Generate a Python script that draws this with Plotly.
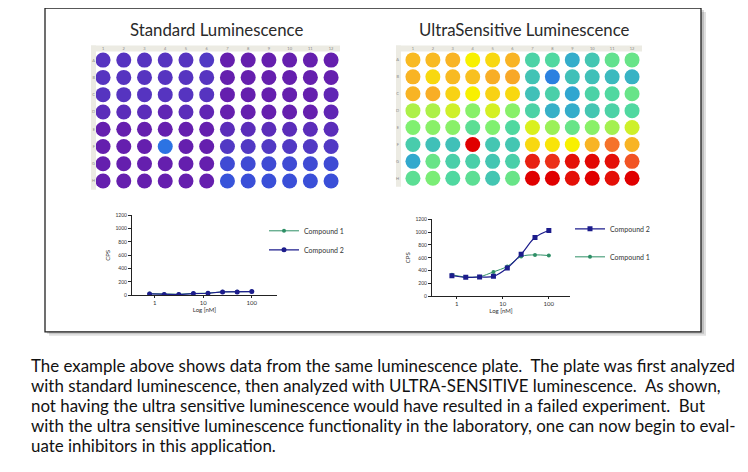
import plotly.graph_objects as go

# page body has an 8px margin, so the figure is drawn 8px in from the window edge
OFF = 8
W, H = 748 - OFF, 472 - OFF

plate_titles = ["Standard Luminescence", "UltraSensitive Luminescence"]
plate_columns = list(range(1, 13))
plate_rows = ["A", "B", "C", "D", "E", "F", "G", "H"]

# relative signal per well (0-100)
standard_wells = [
    [4, 4, 4, 4, 4, 5, 1, 1, 1, 1, 1, 1],
    [4, 4, 4, 4, 4, 4, 1, 1, 1, 1, 1, 1],
    [4, 4, 4, 4, 4, 4, 1, 1, 1, 1, 1, 2],
    [3, 3, 3, 2, 3, 2, 1, 1, 1, 1, 1, 2],
    [1, 1, 1, 1, 1, 1, 3, 3, 3, 3, 3, 3],
    [1, 1, 1, 17, 1, 1, 5, 5, 5, 5, 5, 5],
    [1, 1, 1, 1, 1, 1, 9, 9, 9, 9, 9, 9],
    [1, 1, 1, 1, 1, 1, 11, 10, 10, 10, 10, 10],
]
ultra_wells = [
    [77, 77, 78, 68, 72, 78, 42, 44, 30, 38, 47, 48],
    [78, 72, 77, 76, 79, 80, 37, 20, 36, 36, 34, 32],
    [78, 79, 73, 68, 73, 72, 36, 41, 28, 42, 44, 48],
    [57, 57, 61, 53, 62, 53, 42, 31, 30, 38, 42, 44],
    [52, 53, 53, 46, 52, 44, 63, 55, 48, 53, 56, 61],
    [40, 36, 36, 100, 38, 38, 72, 70, 68, 78, 87, 78],
    [29, 48, 41, 41, 38, 41, 96, 94, 98, 99, 98, 90],
    [46, 51, 44, 46, 38, 48, 100, 100, 98, 100, 98, 100],
]

conc_nM = [0.78125, 1.5625, 3.125, 6.25, 12.5, 25, 50, 100]
std_compound1 = [25, 15, 15, 28, 32, 52, 52, 55]
std_compound2 = [20, 10, 10, 25, 30, 50, 50, 55]
ultra_compound1 = [335, 300, 305, 380, 465, 620, 645, 635]
ultra_compound2 = [320, 295, 300, 310, 440, 655, 915, 1025]

paragraph = [
    "The example above shows data from the same luminescence plate.  The plate was first analyzed",
    "with standard luminescence, then analyzed with ULTRA-SENSITIVE luminescence.  As shown,",
    "not having the ultra sensitive luminescence would have resulted in a failed experiment.  But",
    "with the ultra sensitive luminescence functionality in the laboratory, one can now begin to eval-",
    "uate inhibitors in this application.",
]

well_scale = [
    [0.00, "#6a18a8"], [0.04, "#5634c0"], [0.10, "#3a4fd8"], [0.18, "#2a78e4"],
    [0.28, "#30a6d0"], [0.36, "#40c0b8"], [0.44, "#50d8a0"], [0.52, "#80f070"],
    [0.60, "#c8f030"], [0.68, "#f8f000"], [0.76, "#f8c020"], [0.84, "#f89030"],
    [0.92, "#f04020"], [1.00, "#e00000"],
]

GREEN = "#2e8f66"
NAVY = "#1c1c8c"


def px(x):
    return (x - OFF) / W


def py(y):
    return 1 - (y - OFF) / H


fig = go.Figure()

# plates
for i, wells in enumerate([standard_wells, ultra_wells]):
    xs, ys, vals = [], [], []
    for r, row in enumerate(wells):
        for c, v in enumerate(row):
            xs.append(plate_columns[c])
            ys.append(r + 1)
            vals.append(v)
    fig.add_trace(go.Scatter(x=xs, y=ys, mode="markers", showlegend=False,
                             xaxis="x" if i == 0 else "x2", yaxis="y" if i == 0 else "y2",
                             marker=dict(size=15, color=vals, colorscale=well_scale,
                                         cmin=0, cmax=100, line=dict(width=0))))

# dose-response charts
fig.add_trace(go.Scatter(x=conc_nM, y=std_compound1, name="Compound 1", mode="lines+markers",
                         xaxis="x3", yaxis="y3", legend="legend",
                         line=dict(color=GREEN, width=1), marker=dict(color=GREEN, size=4)))
fig.add_trace(go.Scatter(x=conc_nM, y=std_compound2, name="Compound 2", mode="lines+markers",
                         xaxis="x3", yaxis="y3", legend="legend",
                         line=dict(color=NAVY, width=1.2), marker=dict(color=NAVY, size=5)))
fig.add_trace(go.Scatter(x=conc_nM, y=ultra_compound1, name="Compound 1", mode="lines+markers",
                         xaxis="x4", yaxis="y4", legend="legend2", legendgroup="c1",
                         legendrank=2,
                         line=dict(color=GREEN, width=1, shape="spline"),
                         marker=dict(color=GREEN, size=4)))
fig.add_trace(go.Scatter(x=conc_nM, y=ultra_compound2, name="Compound 2", mode="lines+markers",
                         xaxis="x4", yaxis="y4", legend="legend2", legendgroup="c2",
                         legendrank=1,
                         line=dict(color=NAVY, width=1.2, shape="spline"),
                         marker=dict(color=NAVY, size=5, symbol="square")))

plate_x = dict(tickvals=plate_columns, side="top", tickfont=dict(size=4, color="#888"),
               showgrid=False, zeroline=False, ticks="", showline=False, fixedrange=True)
plate_y = dict(tickvals=list(range(1, 9)), ticktext=plate_rows, range=[8.5, 0.5],
               tickfont=dict(size=4, color="#888"), showgrid=False, zeroline=False,
               ticks="", showline=False)
curve_x = dict(type="log", tickvals=[1, 10, 100], ticktext=["1", "10", "100"],
               tickfont=dict(size=6, color="#333"), showgrid=False, zeroline=False,
               showline=True, linecolor="#222", linewidth=1, ticks="outside", ticklen=2,
               tickcolor="#222", title=dict(text="Log [nM]", font=dict(size=6, color="#333"),
                                            standoff=0))
curve_y = dict(range=[0, 1200], dtick=200, tickfont=dict(size=5, color="#333"),
               showgrid=False, zeroline=False, showline=True, linecolor="#222",
               linewidth=1, ticks="outside", ticklen=3, tickcolor="#222",
               title=dict(text="CPS", font=dict(size=6, color="#333"), standoff=4))

fig.update_layout(
    width=W, height=H, margin=dict(l=0, r=0, t=0, b=0),
    paper_bgcolor="white", plot_bgcolor="rgba(0,0,0,0)",
    font=dict(family="Lato, sans-serif", color="#222"),
    xaxis=dict(plate_x, domain=[px(96), px(340)], range=[0.66, 12.43], anchor="y"),
    yaxis=dict(plate_y, domain=[py(189), py(49)], anchor="x"),
    xaxis2=dict(plate_x, domain=[px(400), px(642)], range=[0.35, 12.5], anchor="y2"),
    yaxis2=dict(plate_y, domain=[py(186), py(49)], anchor="x2"),
    xaxis3=dict(curve_x, domain=[px(132), px(277)], range=[-0.47, 2.52], anchor="y3"),
    yaxis3=dict(curve_y, domain=[py(296), py(215)], anchor="x3"),
    xaxis4=dict(curve_x, domain=[px(432), px(570)], range=[-0.54, 2.46], anchor="y4"),
    yaxis4=dict(curve_y, domain=[py(297), py(219)], anchor="x4"),
    legend=dict(x=px(264), y=py(216), xanchor="left", yanchor="top",
                font=dict(size=7, color="#333"), bgcolor="rgba(0,0,0,0)",
                itemwidth=30, tracegroupgap=0),
    legend2=dict(x=px(570), y=py(214), xanchor="left", yanchor="top",
                 font=dict(size=7, color="#333"), bgcolor="rgba(0,0,0,0)",
                 itemwidth=30, traceorder="grouped", tracegroupgap=9),
)

# framed box with a soft shadow
shapes = [
    dict(type="rect", xref="paper", yref="paper", x0=px(49), x1=px(706), y0=py(337), y1=py(9),
         line=dict(width=0), fillcolor="rgba(0,0,0,0.12)", layer="below"),
    dict(type="rect", xref="paper", yref="paper", x0=px(47), x1=px(704), y0=py(335), y1=py(7),
         line=dict(width=0), fillcolor="rgba(0,0,0,0.15)", layer="below"),
    dict(type="rect", xref="paper", yref="paper", x0=px(45), x1=px(701), y0=py(333), y1=py(5),
         line=dict(color="#222", width=1.3), fillcolor="white", layer="below"),
]
# plate header strips
for left, right, bottom in [(91, 340, 189), (396, 642, 186)]:
    shapes.append(dict(type="rect", xref="paper", yref="paper", x0=px(left), x1=px(right),
                       y0=py(49), y1=py(43), line=dict(width=0), fillcolor="#ecebe3",
                       layer="below"))
    shapes.append(dict(type="rect", xref="paper", yref="paper", x0=px(left), x1=px(left + 5),
                       y0=py(bottom), y1=py(43), line=dict(width=0), fillcolor="#ecebe3",
                       layer="below"))
fig.update_layout(shapes=shapes)

annotations = []
for title, cx in zip(plate_titles, [216, 524]):
    annotations.append(dict(text=title, x=px(cx), y=py(27), xref="paper", yref="paper",
                            showarrow=False, xanchor="center", yanchor="middle",
                            font=dict(size=16.8, color="#2a2a2a")))
for i, line in enumerate(paragraph):
    annotations.append(dict(text=line, x=px(29), y=py(367 + i * 20.3), xref="paper",
                            yref="paper", showarrow=False, xanchor="left", yanchor="middle",
                            font=dict(size=16.9, color="#111")))
fig.update_layout(annotations=annotations)

fig.write_html("out.html")
